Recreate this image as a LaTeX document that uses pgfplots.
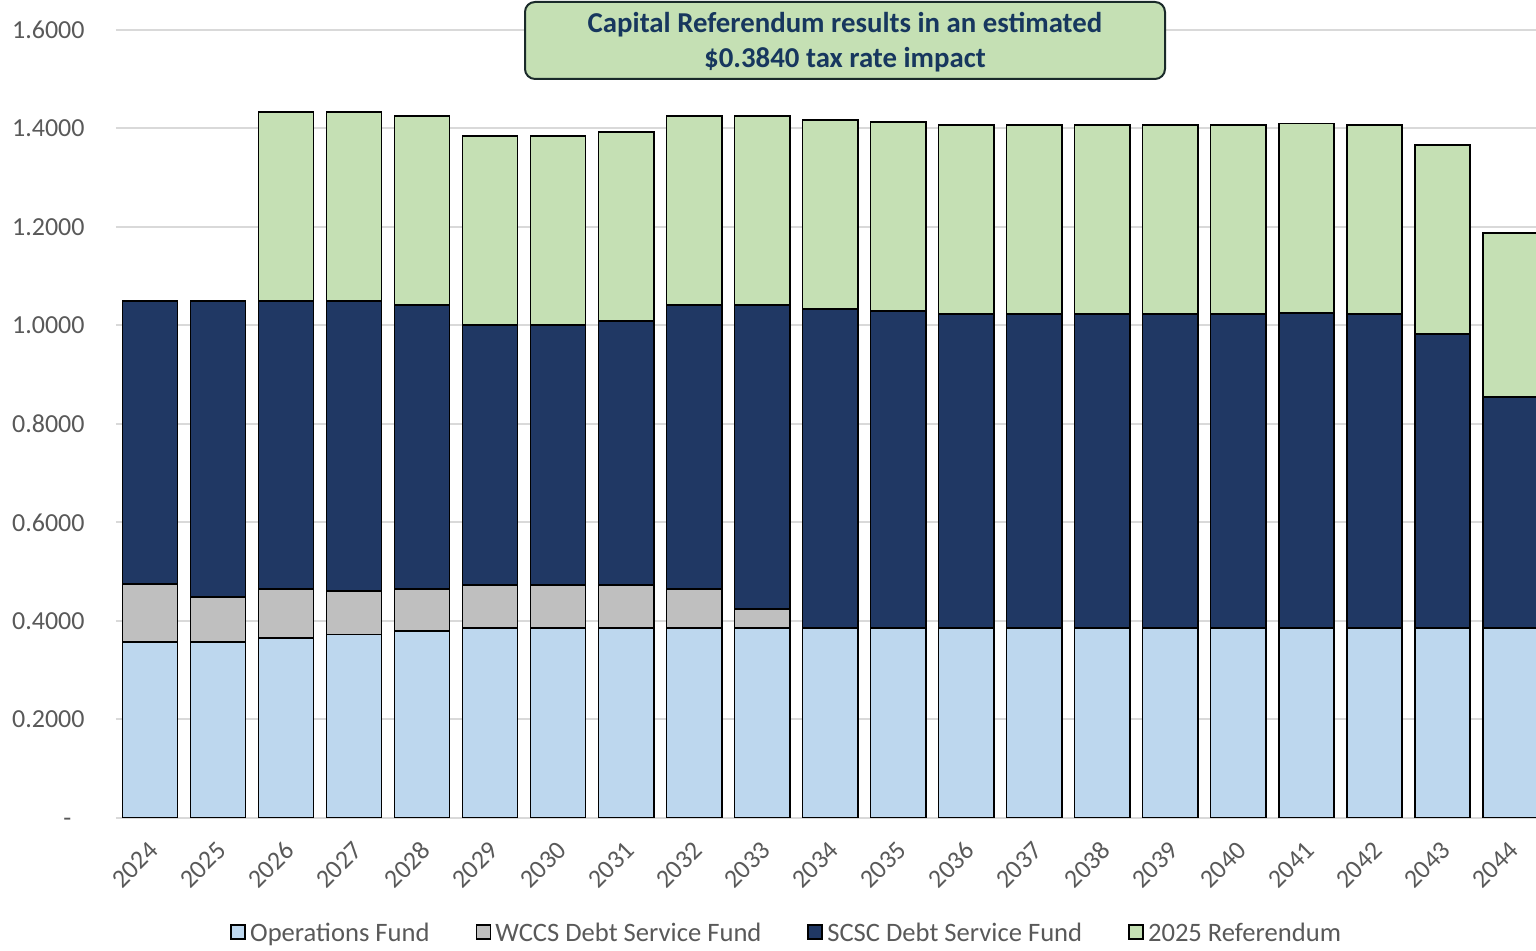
\documentclass[border=0pt]{standalone}
\usepackage{fontspec}
\setmainfont{Carlito}
\usepackage{pgfplots}
\pgfplotsset{compat=1.18}
\definecolor{opsc}{HTML}{BDD7EE}
\definecolor{wccsc}{HTML}{BFBFBF}
\definecolor{scscc}{HTML}{203864}
\definecolor{refc}{HTML}{C5E0B4}
\definecolor{textgray}{HTML}{595959}
\definecolor{gridgray}{HTML}{D9D9D9}
\definecolor{titletext}{HTML}{17375E}
\definecolor{titleborder}{HTML}{1A2A2A}
\begin{document}
\begin{tikzpicture}
\path[use as bounding box] (-58pt,-66.5pt) rectangle (710pt,409pt);
\begin{axis}[
  at={(0pt,0pt)}, anchor=south west,
  scale only axis, width=710pt, height=394pt,
  ybar stacked, bar width=0.81,
  xmin=-0.5, xmax=20.38, ymin=0, ymax=1.6,
  xtick={0,1,2,3,4,5,6,7,8,9,10,11,12,13,14,15,16,17,18,19,20},
  xticklabels={2024,2025,2026,2027,2028,2029,2030,2031,2032,2033,2034,2035,2036,2037,2038,2039,2040,2041,2042,2043,2044},
  ytick={0,0.2,0.4,0.6,0.8,1.0,1.2,1.4,1.6},
  yticklabels={{-\phantom{0}},0.2000,0.4000,0.6000,0.8000,1.0000,1.2000,1.4000,1.6000},
  /pgf/number format/assume math mode=true,
  axis lines*=left,
  axis line style={-},
  y axis line style={draw=none},
  x axis line style={draw=gridgray, line width=1pt},
  major tick length=0pt,
  ymajorgrids, grid style={gridgray, line width=1pt},
  ticklabel style={font=\fontsize{13}{15}\selectfont, text=textgray},
  yticklabel style={anchor=east, inner sep=0pt, xshift=-15.5pt},
  xticklabel style={inner sep=0pt, xshift=2pt, yshift=-14pt, rotate=45, anchor=east},
  every axis plot/.append style={draw=black, line width=0.9pt},
  legend image code/.code={\draw[#1,draw=black,line width=0.9pt] (0pt,-2.5pt) rectangle (7pt,4.5pt);},
  legend style={at={(0.473,-0.147)}, anchor=center, draw=none, fill=none,
    legend columns=4, font=\fontsize{13.3}{15}\selectfont, text=textgray,
    /tikz/every even column/.append style={column sep=21pt}},
]
\addplot[fill=opsc] coordinates {(0,0.358) (1,0.358) (2,0.3655) (3,0.3725) (4,0.379) (5,0.3865) (6,0.3865) (7,0.3865) (8,0.3865) (9,0.3865) (10,0.3865) (11,0.3865) (12,0.3865) (13,0.3865) (14,0.3865) (15,0.3865) (16,0.3865) (17,0.3865) (18,0.3865) (19,0.3865) (20,0.3865)};
\addplot[fill=wccsc] coordinates {(0,0.1166) (1,0.0914) (2,0.0995) (3,0.0885) (4,0.086) (5,0.086) (6,0.086) (7,0.086) (8,0.0785) (9,0.0375) (10,0) (11,0) (12,0) (13,0) (14,0) (15,0) (16,0) (17,0) (18,0) (19,0) (20,0)};
\addplot[fill=scscc] coordinates {(0,0.5747) (1,0.5999) (2,0.5843) (3,0.5883) (4,0.5762) (5,0.528) (6,0.528) (7,0.5367) (8,0.5762) (9,0.6172) (10,0.6465) (11,0.6431) (12,0.637) (13,0.637) (14,0.637) (15,0.637) (16,0.637) (17,0.6395) (18,0.637) (19,0.5965) (20,0.4675)};
\addplot[fill=refc] coordinates {(0,0) (1,0) (2,0.384) (3,0.384) (4,0.384) (5,0.384) (6,0.384) (7,0.384) (8,0.384) (9,0.384) (10,0.384) (11,0.384) (12,0.384) (13,0.384) (14,0.384) (15,0.384) (16,0.384) (17,0.384) (18,0.384) (19,0.384) (20,0.333)};
\legend{Operations Fund,WCCS Debt Service Fund,SCSC Debt Service Fund,2025 Referendum}
\end{axis}
\node[draw=titleborder, line width=1pt, fill=refc, rounded corners=5pt,
  minimum width=320pt, minimum height=38.5pt, inner sep=0pt]
  at (364.5pt,388.75pt) {};
\node[align=center, inner sep=0pt,
  font=\bfseries\fontsize{14.4}{17.5}\selectfont, text=titletext]
  at (364.5pt,387.75pt) {Capital Referendum results in an estimated\\\$0.3840 tax rate impact};
\end{tikzpicture}
\end{document}
